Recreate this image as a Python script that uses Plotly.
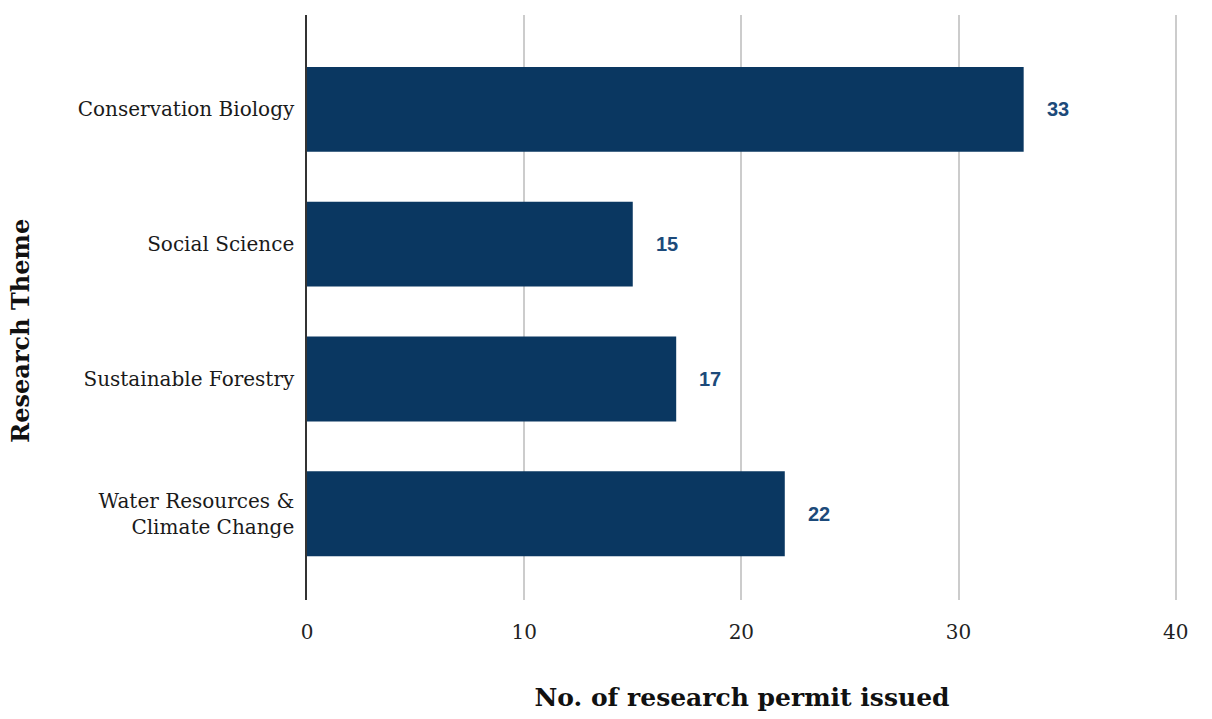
import plotly.graph_objects as go

themes = ["Conservation Biology", "Social Science", "Sustainable Forestry",
          "Water Resources &<br>Climate Change"]
permits = [33, 15, 17, 22]
x_ticks = [0, 10, 20, 30, 40]

bar_color = "#0a3761"
label_color = "#1c4a7a"
serif = "DejaVu Serif, Georgia, serif"

fig = go.Figure(go.Bar(
    x=permits, y=themes, orientation="h",
    marker=dict(color=bar_color, line=dict(width=0)),
    width=0.63,
))

for t, v in zip(themes, permits):
    fig.add_annotation(x=v, y=t, text=f"<b>{v}</b>", showarrow=False,
                       xanchor="left", xshift=21,
                       font=dict(family="Liberation Sans, Arial, sans-serif",
                                 size=20, color=label_color))

fig.add_annotation(x=-0.348, y=0.46, xref="paper", yref="paper",
                   text="<b>Research Theme</b>", textangle=-90, showarrow=False,
                   font=dict(family=serif, size=24, color="#111111"))

fig.update_layout(
    width=1212, height=719,
    margin=dict(l=307, r=35, t=15, b=116),
    plot_bgcolor="white", paper_bgcolor="white",
    showlegend=False,
    xaxis=dict(
        range=[0, 40.06], tickvals=x_ticks, ticktext=[str(v) for v in x_ticks],
        showgrid=True, gridcolor="#cccccc", gridwidth=1.5,
        zeroline=False, showline=False, ticks="",
        ticklabelstandoff=18,
        tickfont=dict(family=serif, size=20, color="#222222"),
        title=dict(text="<b>No. of research permit issued</b>", standoff=45,
                   font=dict(family=serif, size=25, color="#111111")),
    ),
    yaxis=dict(
        categoryorder="array", categoryarray=themes[::-1],
        range=[-0.64, 3.70],
        showgrid=False, zeroline=False,
        showline=True, linecolor="#333333", linewidth=1.5,
        ticks="", ticklabelstandoff=7,
        tickfont=dict(family=serif, size=20, color="#1a1a1a"),
    ),
)

fig.write_html("out.html")
